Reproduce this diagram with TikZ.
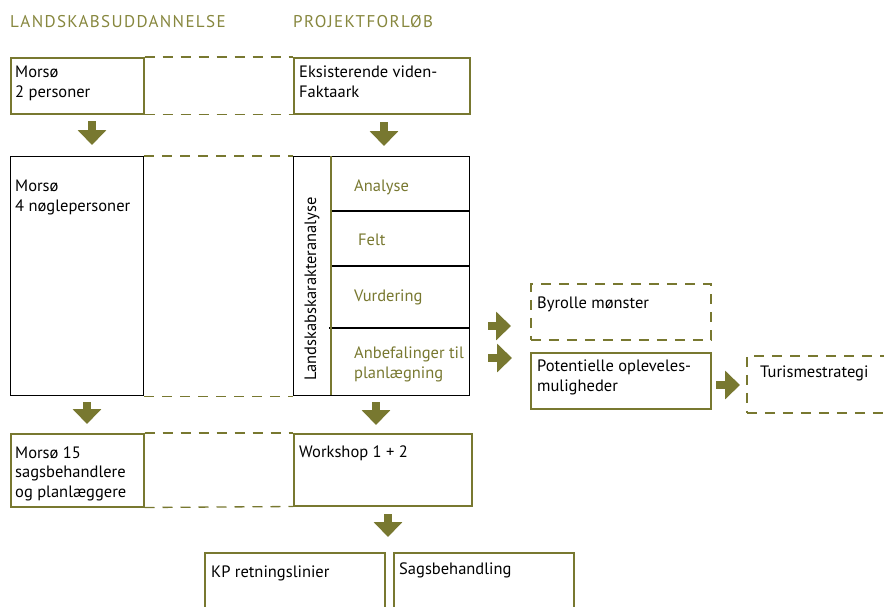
\documentclass[tikz,border=0pt]{standalone}
\usepackage{fontspec}
\setmainfont{PT Sans}
\usetikzlibrary{arrows.meta,positioning}
\definecolor{landolive}{RGB}{120,120,48}
\definecolor{headolive}{RGB}{135,135,62}
\tikzset{
	box/.style={draw=landolive, line width=1.5pt, inner sep=0pt, anchor=north west},
	blackbox/.style={draw=black, line width=1.3pt, inner sep=0pt, anchor=north west},
	dashbox/.style={box, dash pattern=on 10pt off 8pt},
	link/.style={draw=landolive, line width=1.3pt, dash pattern=on 10pt off 8pt},
	blockarrow/.style={landolive, line width=8pt, -{Triangle[width=28pt,length=15pt]}},
	txt/.style={anchor=base west, align=left, inner sep=0pt, font=\fontsize{16.5}{19.5}\selectfont},
	steptxt/.style={txt, text=landolive},
	headtxt/.style={txt, text=headolive, font=\fontsize{17}{20}\selectfont\addfontfeature{LetterSpace=8}}
}
\begin{document}
\begin{tikzpicture}[x=1pt, y=-1pt]
			\useasboundingbox (0,0) rectangle (884,606);

			\node[headtxt] (head1) at (10,27) {LANDSKABSUDDANNELSE};
			\node[headtxt] (head2) at (293,27) {PROJEKTFORLØB};

			\node[box, minimum width=133pt, minimum height=56pt] (mors2) at (10,57) {};
			\node[box, minimum width=176pt, minimum height=56pt] (fakta) at (293,57) {};
			\node[blackbox, minimum width=133pt, minimum height=239pt] (mors4) at (10,156) {};
			\node[blackbox, minimum width=176pt, minimum height=239pt] (lka) at (293,156) {};
			\node[dashbox, minimum width=180pt, minimum height=56pt] (byrolle) at (530,283) {};
			\node[box, minimum width=180pt, minimum height=56pt] (oplev) at (530,352) {};
			\node[dashbox, minimum width=160pt, minimum height=57pt] (turisme) at (746,355) {};
			\node[box, minimum width=133pt, minimum height=73pt] (mors15) at (10,433) {};
			\node[box, minimum width=178pt, minimum height=72pt] (workshop) at (293,433) {};
			\node[box, minimum width=180pt, minimum height=80pt] (kp) at (204,552) {};
			\node[box, minimum width=180pt, minimum height=80pt] (sags) at (393,552) {};

			\draw[black, line width=1.3pt] (331,211) -- (469,211) (331,266) -- (469,266) (329,328) -- (469,328);
			\draw[landolive, line width=1.3pt] (331,156) -- (331,395);

			\draw[link] (mors2.north east) -- (fakta.north west);
			\draw[link] (mors2.south east) -- (fakta.south west);
			\draw[link] (mors4.north east) -- (lka.north west);
			\draw[link] (mors4.south east) -- (lka.south west);
			\draw[link] (mors15.north east) -- (workshop.north west);
			\draw[link] (mors15.south east) -- (workshop.south west);

			\node[txt] (t-mors2) at (15,97) {Morsø\\2 personer};
			\node[txt] (t-fakta) at (299,97) {Eksisterende viden-\\Faktaark};
			\node[txt] (t-mors4) at (15,211) {Morsø\\4 nøglepersoner};
			\node[steptxt] (t-analyse) at (354,191) {Analyse};
			\node[steptxt] (t-felt) at (358,245) {Felt};
			\node[steptxt] (t-vurdering) at (354,301) {Vurdering};
			\node[steptxt] (t-anbef) at (354,378) {Anbefalinger til\\planlægning};
			\node[txt, rotate=90] (t-lka) at (316,381) {Landskabskarakteranalyse};
			\node[txt] (t-byrolle) at (537,308) {Byrolle mønster};
			\node[txt] (t-oplev) at (537,391) {Potentielle opleveles-\\muligheder};
			\node[txt] (t-turisme) at (760,377) {Turismestrategi};
			\node[txt] (t-mors15) at (15,497) {Morsø 15\\sagsbehandlere\\og planlæggere};
			\node[txt] (t-workshop) at (299,457) {Workshop 1 + 2};
			\node[txt] (t-kp) at (211,577) {KP retningslinier};
			\node[txt] (t-sags) at (399,574) {Sagsbehandling};

			\coordinate (d1a) at (92,121);
			\coordinate (d1b) at (92,145);
			\coordinate (d2a) at (384,122);
			\coordinate (d2b) at (384,146);
			\coordinate (d3a) at (87,402);
			\coordinate (d3b) at (87,424);
			\coordinate (d4a) at (376,402);
			\coordinate (d4b) at (376,425);
			\coordinate (d5a) at (388,514);
			\coordinate (d5b) at (388,537);
			\coordinate (r1a) at (488,326);
			\coordinate (r1b) at (511,326);
			\coordinate (r2a) at (488,358);
			\coordinate (r2b) at (512,358);
			\coordinate (r3a) at (716,385);
			\coordinate (r3b) at (740,385);
			\foreach \s/\e in {d1a/d1b, d2a/d2b, d3a/d3b, d4a/d4b, d5a/d5b, r1a/r1b, r2a/r2b, r3a/r3b}
				\draw[blockarrow] (\s) -- (\e);
		\end{tikzpicture}
\end{document}
